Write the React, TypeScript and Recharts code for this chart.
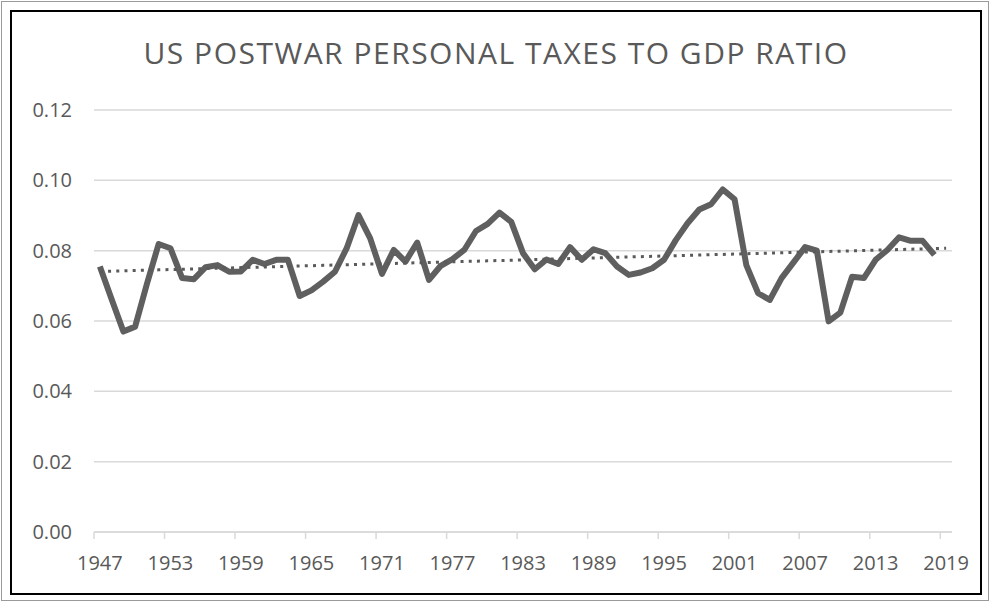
import React from 'react';
import { LineChart, Line, XAxis, YAxis, CartesianGrid } from 'recharts';

// Années de 1947 à 2019 (la dernière catégorie est vide)
const years: string[] = [
  '1947', '1948', '1949', '1950', '1951', '1952', '1953', '1954', '1955', '1956',
  '1957', '1958', '1959', '1960', '1961', '1962', '1963', '1964', '1965', '1966',
  '1967', '1968', '1969', '1970', '1971', '1972', '1973', '1974', '1975', '1976',
  '1977', '1978', '1979', '1980', '1981', '1982', '1983', '1984', '1985', '1986',
  '1987', '1988', '1989', '1990', '1991', '1992', '1993', '1994', '1995', '1996',
  '1997', '1998', '1999', '2000', '2001', '2002', '2003', '2004', '2005', '2006',
  '2007', '2008', '2009', '2010', '2011', '2012', '2013', '2014', '2015', '2016',
  '2017', '2018', '2019',
];

const taxRatio: (number | null)[] = [
  0.0755, 0.0662, 0.0570, 0.0584, 0.0705, 0.0819, 0.0807, 0.0722, 0.0719, 0.0753,
  0.0759, 0.0740, 0.0741, 0.0774, 0.0762, 0.0774, 0.0774, 0.0671, 0.0687, 0.0712,
  0.0740, 0.0807, 0.0901, 0.0835, 0.0734, 0.0802, 0.0769, 0.0823, 0.0717, 0.0757,
  0.0776, 0.0802, 0.0856, 0.0876, 0.0908, 0.0882, 0.0793, 0.0747, 0.0775, 0.0762,
  0.0810, 0.0774, 0.0804, 0.0793, 0.0755, 0.0731, 0.0738, 0.0750, 0.0774, 0.0830,
  0.0878, 0.0917, 0.0932, 0.0974, 0.0946, 0.0759, 0.0679, 0.0660, 0.0722, 0.0766,
  0.0810, 0.0800, 0.0599, 0.0624, 0.0726, 0.0722, 0.0774, 0.0802, 0.0838, 0.0828,
  0.0828, 0.0788, null,
];

const yTicks: number[] = [0, 0.02, 0.04, 0.06, 0.08, 0.1, 0.12];

// tendance linéaire (moindres carrés), comme la courbe de tendance d'Excel
const known = taxRatio
  .map((v, i) => ({ i, v }))
  .filter((p) => p.v !== null) as { i: number; v: number }[];
const n = known.length;
const meanX = known.reduce((s, p) => s + p.i, 0) / n;
const meanY = known.reduce((s, p) => s + p.v, 0) / n;
const slope =
  known.reduce((s, p) => s + (p.i - meanX) * (p.v - meanY), 0) /
  known.reduce((s, p) => s + (p.i - meanX) * (p.i - meanX), 0);
const intercept = meanY - slope * meanX;

const data = years.map((year, i) => ({
  year,
  ratio: taxRatio[i],
  trend: intercept + slope * i,
}));

const CHART_W = 968;
const CHART_H = 581;
const PLOT_LEFT = 82;
const PLOT_RIGHT = 28;
const TEXT_COLOR = '#595959';
const FONT = "'Open Sans', sans-serif";

const XTick = (props: any) => {
  const { x, y, payload } = props;
  const half = (CHART_W - PLOT_LEFT - PLOT_RIGHT) / years.length / 2;
  return (
    <g>
      <line x1={x - half} x2={x - half} y1={y} y2={y + 7} stroke="#d9d9d9" strokeWidth={1.5} />
      <text
        x={x}
        y={y + 24}
        dy="0.71em"
        textAnchor="middle"
        fill={TEXT_COLOR}
        fontSize={20}
        fontFamily={FONT}
      >
        {payload.value}
      </text>
    </g>
  );
};

export default function App() {
  return (
    <div style={{ position: 'relative', width: 992, height: 602 }}>
      <style>{'body { margin: 0; }'}</style>
      {/* cadre gris extérieur */}
      <div
        style={{
          position: 'absolute',
          left: 1,
          top: 1,
          width: 988,
          height: 600,
          border: '1px solid #9a9a9a',
          boxSizing: 'border-box',
        }}
      />
      {/* cadre noir du graphique */}
      <div
        style={{
          position: 'absolute',
          left: 10,
          top: 10,
          width: 972,
          height: 585,
          border: '2px solid #000',
          boxSizing: 'border-box',
          background: '#fff',
        }}
      >
        <div
          style={{
            position: 'absolute',
            left: 0,
            top: 26,
            width: CHART_W,
            textAlign: 'center',
            fontFamily: FONT,
            fontSize: 30,
            lineHeight: '30px',
            color: TEXT_COLOR,
            letterSpacing: 1.5,
          }}
        >
          US POSTWAR PERSONAL TAXES TO GDP RATIO
        </div>
        <LineChart
          width={CHART_W}
          height={CHART_H}
          data={data}
          margin={{ top: 98, right: PLOT_RIGHT, left: 0, bottom: 21 }}
        >
          <CartesianGrid vertical={false} stroke="#d9d9d9" strokeWidth={1.5} />
          <XAxis
            dataKey="year"
            scale="band"
            interval={5}
            height={40}
            tickSize={0}
            tickMargin={0}
            axisLine={{ stroke: '#d9d9d9', strokeWidth: 1.5 }}
            tickLine={false}
            tick={<XTick />}
          />
          <YAxis
            domain={[0, 0.12]}
            ticks={yTicks}
            width={PLOT_LEFT}
            tickSize={0}
            tickMargin={22}
            axisLine={false}
            tickLine={false}
            tickFormatter={(v: number) => v.toFixed(2)}
            tick={{ fill: TEXT_COLOR, fontSize: 20, fontFamily: FONT }}
          />
          {/* série principale */}
          <Line
            type="linear"
            dataKey="ratio"
            stroke="#5f5f5f"
            strokeWidth={6}
            strokeLinejoin="round"
            dot={false}
            isAnimationActive={false}
          />
          {/* tendance pointillée */}
          <Line
            type="linear"
            dataKey="trend"
            stroke="#5a5a5a"
            strokeWidth={3}
            strokeDasharray="3 5.2"
            dot={false}
            isAnimationActive={false}
          />
        </LineChart>
      </div>
    </div>
  );
}
